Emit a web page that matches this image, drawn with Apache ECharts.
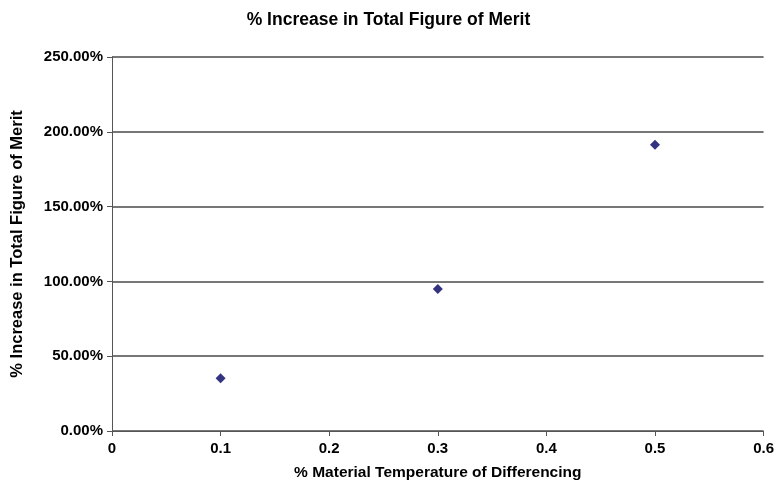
<!DOCTYPE html>
<html><head><meta charset="utf-8">
<script src="https://cdn.jsdelivr.net/npm/echarts@6/dist/echarts.min.js"></script>
<style>html,body{margin:0;padding:0;background:#fff}#c{width:777px;height:486px}</style>
</head><body><div id="c"></div>
<script>
const xValues = [0.1, 0.3, 0.5];
const yValues = [35.3, 94.9, 191.3];
const titleText = '% Increase in Total Figure of Merit';
const xName = '% Material Temperature of Differencing';
const yName = '% Increase in Total Figure of Merit';
const ff = '"Liberation Sans", Arial, sans-serif';
const chart = echarts.init(document.getElementById('c'));
chart.setOption({
  animation: false,
  backgroundColor: '#fff',
  title: {text: titleText, left: 'center', top: 6,
    textStyle: {fontFamily: ff, fontWeight: 'bold', fontSize: 17.5, color: '#000'}},
  grid: {left: 112, right: 9, top: 57, bottom: 51, containLabel: false},
  xAxis: {type: 'value', min: 0, max: 0.6, interval: 0.1,
    name: xName, nameLocation: 'middle', nameGap: 34,
    nameTextStyle: {fontFamily: ff, fontWeight: 'bold', fontSize: 15.5, color: '#000'},
    axisLine: {show: true, lineStyle: {color: '#555', width: 1}},
    axisTick: {show: true, length: 5, lineStyle: {color: '#555'}},
    axisLabel: {fontFamily: ff, fontWeight: 'bold', fontSize: 15, color: '#000', margin: 10,
      formatter: v => v === 0 ? '0' : v.toFixed(1)},
    splitLine: {show: false}},
  yAxis: {type: 'value', min: 0, max: 250, interval: 50,
    name: yName, nameLocation: 'middle', nameGap: 86, nameRotate: 90,
    nameTextStyle: {fontFamily: ff, fontWeight: 'bold', fontSize: 16.5, color: '#000'},
    axisLine: {show: true, lineStyle: {color: '#555', width: 1}},
    axisTick: {show: true, length: 5, lineStyle: {color: '#555'}},
    axisLabel: {fontFamily: ff, fontWeight: 'bold', fontSize: 15, color: '#000', margin: 9,
      formatter: v => v.toFixed(2) + '%'},
    splitLine: {show: true, lineStyle: {color: '#777', width: 2}}},
  series: [{type: 'scatter', symbol: 'diamond', symbolSize: 10,
    itemStyle: {color: '#000060'},
    data: xValues.map((x, i) => [x, yValues[i]])}]
});
</script></body></html>
